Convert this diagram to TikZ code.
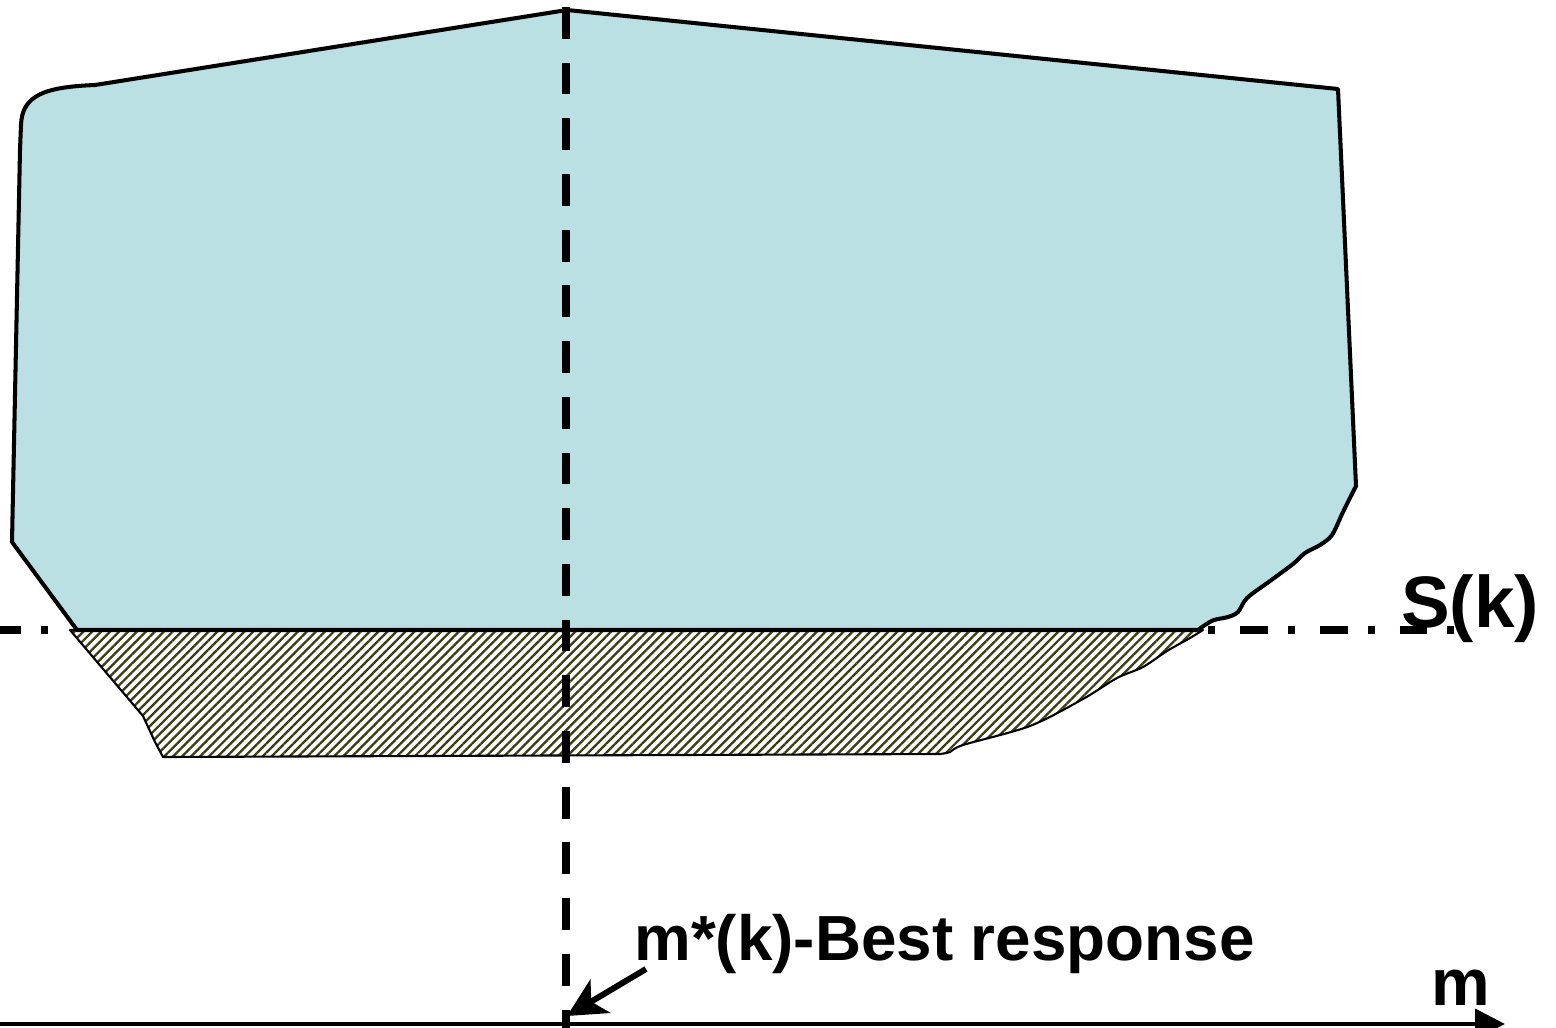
\documentclass[tikz,border=0pt]{standalone}
\usepackage{fontspec}
\setmainfont{Liberation Sans}
\usetikzlibrary{arrows.meta,patterns.meta}
\definecolor{shapeblue}{RGB}{186,224,227}
\definecolor{hatchcol}{RGB}{60,60,20}
\tikzset{
  region/.style={fill=shapeblue, draw=black, line width=2.3pt, line join=round},
  hatched/.style={draw=black, line width=1.2pt, line join=round, preaction={fill=white},
    pattern={Lines[angle=45,distance=3.6pt,line width=1.3pt]}, pattern color=hatchcol},
  dashdot/.style={line width=4pt, dash pattern=on 15.9pt off 11.3pt on 4pt off 14.2pt},
  vdash/.style={line width=4.5pt, dash pattern=on 18.1pt off 13.6pt},
  lbl/.style={inner sep=0pt, anchor=base west},
}
\begin{document}
\begin{tikzpicture}[x=0.02cm,y=-0.02cm]
\useasboundingbox (0,0) rectangle (1556,1028);

% dash-dot level line S(k)
\coordinate (dl0) at (0,630);
\coordinate (dl1) at (72,630);
\coordinate (dr0) at (1208,630);
\coordinate (dr1) at (1457,630);
\draw[dashdot, dash phase=4pt] (dl0) -- (dl1);
\draw[dashdot, dash phase=27.2pt] (dr0) -- (dr1);

% hatched region
\draw[hatched] (70,630) -- (1203,630) -- plot[smooth] coordinates {(1203,630) (1190,638) (1167,651) (1143,667) (1117,678) (1083,699) (1030,726) (963,745) (950,752) (940,754)} -- (163,757) -- (155,742) -- (143,716) -- cycle;

% blue region
\draw[region] (77,630) -- (12,542) -- (20,150) -- (21,125) .. controls (22,95) and (45,87) .. (95,85) -- (567,10) -- (1338,89) -- (1356,486) -- plot[smooth] coordinates {(1356,486) (1343,512) (1332,535) (1320,545) (1305,553) (1293,564) (1270,581) (1247,598) (1238,612) (1228,617) (1214,620) (1205,625) (1198,630)} -- cycle;

% vertical dashed line
\coordinate (vtop) at (566,7);
\coordinate (vbot) at (566,1028);
\draw[vdash] (vtop) -- (vbot);

% axis
\coordinate (ax0) at (0,1024);
\coordinate (ax1) at (1505,1024);
\draw[line width=2.3pt, -{Triangle[length=17pt,width=17pt]}] (ax0) -- (ax1);

% pointer arrow
\coordinate (ptr0) at (646,969);
\coordinate (ptr1) at (567,1016);
\draw[line width=3.4pt, -{Stealth[length=22pt,width=22pt,inset=6pt]}] (ptr0) -- (ptr1);

% labels
\node[lbl, font=\fontsize{36.3}{40}\selectfont\bfseries] (br) at (634,960) {m*(k)-Best response};
\node[lbl, font=\fontsize{41.5}{46}\selectfont\bfseries] (sk) at (1401,627) {S(k)};
\node[lbl, font=\fontsize{37.5}{42}\selectfont\bfseries] (mlab) at (1431,1005) {m};
\end{tikzpicture}
\end{document}
